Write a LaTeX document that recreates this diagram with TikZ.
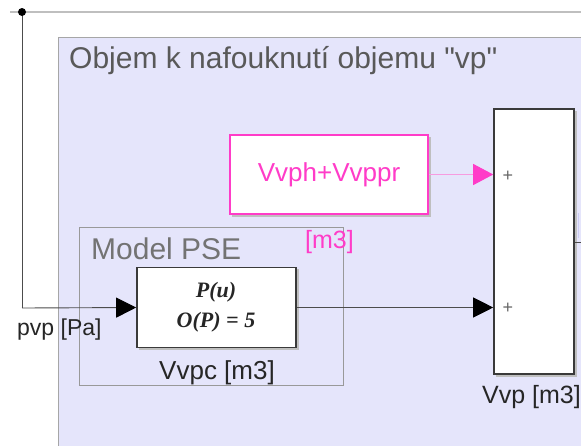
\documentclass[tikz,border=0pt]{standalone}
\usepackage{fontspec}
\setmainfont{Liberation Sans}[Ligatures=TeXOff]
\newfontfamily\serifbi{Liberation Serif}
\usetikzlibrary{arrows.meta}
\definecolor{lav}{HTML}{E5E5FB}
\definecolor{pinkc}{HTML}{FF3CC8}
\definecolor{pinkl}{HTML}{F79BE0}
\definecolor{bord}{HTML}{3A3A3A}
\tikzset{
  shadowbox/.style={fill=black!25, draw=none},
  sig/.style={draw=black!70, line width=0.9pt},
  tip/.style={-{Triangle[length=20pt,width=20pt,fill=black,color=black]}},
  lbl/.style={inner sep=0pt, text=black!85},
}
\begin{document}
\begin{tikzpicture}[x=1pt,y=-1pt]
\useasboundingbox (0,0) rectangle (581,445);
\fill[white] (0,0) rectangle (581,445);
% subsystem area
\draw[draw=black!35, fill=lav, line width=0.9pt] (58,37) rectangle (590,455);
\node[lbl, anchor=base west, text=black!65, font=\fontsize{30}{30}\selectfont] (title) at (69,68) {Objem k nafouknutí objemu "vp"};
% Model PSE area
\draw[draw=black!40, line width=0.8pt] (79,227) rectangle (343,385);
\node[lbl, anchor=base west, text=black!55, font=\fontsize{30}{30}\selectfont] (mtitle) at (91,259) {Model PSE};
% shadows
\fill[shadowbox] (139,269) rectangle (298.5,349.5);
\fill[shadowbox] (232,137) rectangle (430.5,216.5);
\fill[shadowbox] (496,111) rectangle (576.5,376.5);
% blocks
\node[draw=bord, line width=1.6pt, fill=white, minimum width=159pt, minimum height=80pt, inner sep=0pt] (pse) at (216.5,307.5) {};
\node[lbl, font=\serifbi\bfseries\itshape\fontsize{22}{22}\selectfont] (pu) at (216,292) {P(u)};
\node[lbl, font=\serifbi\bfseries\itshape\fontsize{22}{22}\selectfont] (op) at (216,322) {O(P) = 5};
\node[draw=pinkc, line width=1.6pt, fill=white, minimum width=198pt, minimum height=79pt, inner sep=0pt, text=pinkc, font=\fontsize{26}{26}\selectfont] (cst) at (329,174.5) {Vvph+Vvppr};
\node[draw=bord, line width=1.6pt, fill=white, minimum width=80pt, minimum height=265pt, inner sep=0pt] (sum) at (534,241.5) {};
\node[lbl, text=black!60, font=\fontsize{18}{18}\selectfont] (p1) at (508,176) {+};
\node[lbl, text=black!60, font=\fontsize{18}{18}\selectfont] (p2) at (508,308) {+};
% partial block at right edge
\draw[draw=black!25!blue!20, line width=1pt] (578,213) -- (578,238);
% labels
\node[lbl, anchor=base west, font=\fontsize{23}{23}\selectfont] (pvp) at (17,335) {pvp [Pa]};
\node[lbl, anchor=base, font=\fontsize{26}{26}\selectfont] (vvpc) at (217,379) {Vvpc [m3]};
\node[lbl, anchor=base west, text=pinkc, font=\fontsize{25}{25}\selectfont] (m3) at (305,248) {[m3]};
\node[lbl, anchor=base west, font=\fontsize{25}{25}\selectfont] (vvp) at (482,403) {Vvp [m3]};
% signals
\coordinate (tl) at (10,12);
\coordinate (tr) at (581,12);
\coordinate (br) at (22,12);
\coordinate (corner) at (22,308);
\coordinate (out) at (581,242);
\draw[draw=black!25, line width=1.2pt] (tl) -- (tr);
\draw[sig] (br) -- (corner);
\draw[sig, tip] (corner) -- (pse.west);
\fill[black] (br) circle (4pt);
\draw[draw=pinkl, line width=0.9pt, -{Triangle[length=20pt,width=21pt,fill=pinkc,color=pinkc]}] (cst.east) -- (sum.west |- cst.east);
\draw[sig, tip] (pse.east) -- (sum.west |- pse.east);
\draw[sig] (sum.east |- out) -- (out);
\end{tikzpicture}
\end{document}
